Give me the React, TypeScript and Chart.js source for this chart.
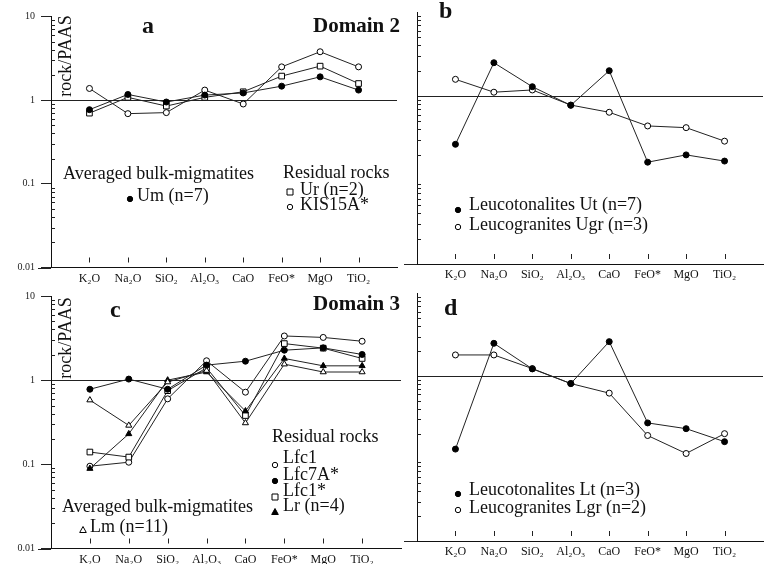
import React, { useEffect, useRef } from 'react';
import { Chart, registerables } from 'chart.js';

Chart.register(...registerables);

// ---------- data ----------
const OXIDES = ['K₂O', 'Na₂O', 'SiO₂', 'Al₂O₃', 'CaO', 'FeO*', 'MgO', 'TiO₂'];
const Y_MAJOR = [0.01, 0.1, 1, 10];
const Y_LABELS = ['0.01', '0.1', '1', '10'];
const MINOR_MULT = [2, 3, 4, 5, 6, 7, 8, 9];

// Panel a – Domain 2
const UM = [0.77, 1.17, 0.95, 1.15, 1.22, 1.47, 1.9, 1.32];
const UR = [0.7, 1.08, 0.85, 1.08, 1.26, 1.94, 2.55, 1.58];
const KIS15A = [1.38, 0.69, 0.71, 1.32, 0.9, 2.5, 3.79, 2.5];
// Panel b
const UT = [0.266, 2.49, 1.29, 0.775, 2.0, 0.163, 0.199, 0.168];
const UGR = [1.58, 1.11, 1.18, 0.78, 0.64, 0.44, 0.42, 0.29];
// Panel c – Domain 3
const LFC1 = [0.095, 0.106, 0.6, 1.7, 0.72, 3.35, 3.22, 2.9];
const LFC7A = [0.78, 1.03, 0.78, 1.51, 1.68, 2.27, 2.42, 2.02];
const LFC1S = [0.14, 0.122, 0.75, 1.4, 0.38, 2.72, 2.4, 1.81];
const LR = [0.089, 0.23, 1.0, 1.25, 0.43, 1.81, 1.48, 1.48];
const LM = [0.58, 0.29, 0.95, 1.3, 0.31, 1.55, 1.25, 1.25];
// Panel d
const LT = [0.13, 2.49, 1.22, 0.81, 2.61, 0.27, 0.23, 0.16];
const LGR = [1.8, 1.8, 1.23, 0.81, 0.62, 0.19, 0.115, 0.2];

// ---------- styles ----------
const SERIF = "'Liberation Serif', 'Times New Roman', 'DejaVu Serif', serif";
type Mk = 'fc' | 'oc' | 'os' | 'ft' | 'ot';
const MARK: Record<Mk, any> = {
  fc: { pointStyle: 'circle', pointRadius: 3, pointBackgroundColor: '#000' },
  oc: { pointStyle: 'circle', pointRadius: 3, pointBackgroundColor: '#fff' },
  os: { pointStyle: 'rect', pointRadius: 4, pointBackgroundColor: '#fff' },
  ft: { pointStyle: 'triangle', pointRadius: 3.5, pointBackgroundColor: '#000' },
  ot: { pointStyle: 'triangle', pointRadius: 3.5, pointBackgroundColor: '#fff' },
};

type TextItem = { t: string; x: number; y: number; font: string; base?: CanvasTextBaseline; rot?: boolean; align?: CanvasTextAlign };
type LegMark = { m: Mk; x: number; y: number };

interface Panel {
  area: { l: number; r: number; t: number; b: number };
  series: { label: string; values: number[]; m: Mk }[];
  yLabels: boolean;
  texts: TextItem[];
  marks: LegMark[];
}

const F18 = `18px ${SERIF}`;
const FB_LET = `bold 24px ${SERIF}`;
const FB_DOM = `bold 21px ${SERIF}`;

const PANELS: Panel[] = [
  {
    area: { l: 51, r: 397, t: 16.5, b: 267.5 },
    series: [
      { label: 'Um (n=7)', values: UM, m: 'fc' },
      { label: 'Ur (n=2)', values: UR, m: 'os' },
      { label: 'KIS15A*', values: KIS15A, m: 'oc' },
    ],
    yLabels: true,
    texts: [
      { t: 'a', x: 142, y: 33, font: FB_LET, base: 'alphabetic' },
      { t: 'Domain 2', x: 313, y: 32, font: FB_DOM, base: 'alphabetic' },
      { t: 'rock/PAAS', x: 66, y: 56, font: F18, rot: true, align: 'center' },
      { t: 'Averaged bulk-migmatites', x: 63, y: 174, font: F18 },
      { t: 'Um (n=7)', x: 137, y: 196, font: F18 },
      { t: 'Residual rocks', x: 283, y: 173, font: F18 },
      { t: 'Ur (n=2)', x: 300, y: 190, font: F18 },
      { t: 'KIS15A*', x: 300, y: 205, font: F18 },
    ],
    marks: [
      { m: 'fc', x: 130, y: 199 },
      { m: 'os', x: 290, y: 192 },
      { m: 'oc', x: 290, y: 207 },
    ],
  },
  {
    area: { l: 417, r: 763, t: 12, b: 264 },
    series: [
      { label: 'Leucotonalites Ut (n=7)', values: UT, m: 'fc' },
      { label: 'Leucogranites Ugr (n=3)', values: UGR, m: 'oc' },
    ],
    yLabels: false,
    texts: [
      { t: 'b', x: 439, y: 18, font: FB_LET, base: 'alphabetic' },
      { t: 'Leucotonalites Ut (n=7)', x: 469, y: 205, font: F18 },
      { t: 'Leucogranites Ugr (n=3)', x: 469, y: 225, font: F18 },
    ],
    marks: [
      { m: 'fc', x: 458, y: 210 },
      { m: 'oc', x: 458, y: 227 },
    ],
  },
  {
    area: { l: 51, r: 401, t: 296, b: 548.5 },
    series: [
      { label: 'Lfc7A*', values: LFC7A, m: 'fc' },
      { label: 'Lm (n=11)', values: LM, m: 'ot' },
      { label: 'Lr (n=4)', values: LR, m: 'ft' },
      { label: 'Lfc1*', values: LFC1S, m: 'os' },
      { label: 'Lfc1', values: LFC1, m: 'oc' },
    ],
    yLabels: true,
    texts: [
      { t: 'c', x: 110, y: 317, font: FB_LET, base: 'alphabetic' },
      { t: 'Domain 3', x: 313, y: 310, font: FB_DOM, base: 'alphabetic' },
      { t: 'rock/PAAS', x: 66, y: 338, font: F18, rot: true, align: 'center' },
      { t: 'Residual rocks', x: 272, y: 437, font: F18 },
      { t: 'Lfc1', x: 283, y: 458, font: F18 },
      { t: 'Lfc7A*', x: 283, y: 475, font: F18 },
      { t: 'Lfc1*', x: 283, y: 491, font: F18 },
      { t: 'Lr (n=4)', x: 283, y: 506, font: F18 },
      { t: 'Averaged bulk-migmatites', x: 62, y: 507, font: F18 },
      { t: 'Lm (n=11)', x: 90, y: 527, font: F18 },
    ],
    marks: [
      { m: 'oc', x: 275, y: 465 },
      { m: 'fc', x: 275, y: 481 },
      { m: 'os', x: 275, y: 497 },
      { m: 'ft', x: 275, y: 512 },
      { m: 'ot', x: 83, y: 530 },
    ],
  },
  {
    area: { l: 417, r: 764, t: 293.5, b: 541 },
    series: [
      { label: 'Leucotonalites Lt (n=3)', values: LT, m: 'fc' },
      { label: 'Leucogranites Lgr (n=2)', values: LGR, m: 'oc' },
    ],
    yLabels: false,
    texts: [
      { t: 'd', x: 444, y: 315, font: FB_LET, base: 'alphabetic' },
      { t: 'Leucotonalites Lt (n=3)', x: 469, y: 490, font: F18 },
      { t: 'Leucogranites Lgr (n=2)', x: 469, y: 508, font: F18 },
    ],
    marks: [
      { m: 'fc', x: 458, y: 494 },
      { m: 'oc', x: 458, y: 510 },
    ],
  },
];

const W = 768;
const H = 564;
const YW = 40;
const XH = 22;

function drawMark(ctx: CanvasRenderingContext2D, m: Mk, x: number, y: number) {
  ctx.save();
  ctx.lineWidth = 1;
  ctx.strokeStyle = '#000';
  ctx.fillStyle = m === 'fc' || m === 'ft' ? '#000' : '#fff';
  ctx.beginPath();
  if (m === 'fc' || m === 'oc') {
    ctx.arc(x, y, 2.7, 0, Math.PI * 2);
  } else if (m === 'os') {
    ctx.rect(x - 3, y - 3, 6, 6);
  } else {
    ctx.moveTo(x, y - 3.5);
    ctx.lineTo(x + 3.3, y + 2.5);
    ctx.lineTo(x - 3.3, y + 2.5);
    ctx.closePath();
  }
  ctx.fill();
  ctx.stroke();
  ctx.restore();
}

function makeDecor(panel: Panel) {
  return {
    id: 'decor',
    afterDraw(chart: any) {
      const ctx: CanvasRenderingContext2D = chart.ctx;
      const ys = chart.scales.y;
      const xs = chart.scales.x;
      const ca = chart.chartArea;
      ctx.save();
      ctx.strokeStyle = '#222';
      ctx.lineWidth = 1;
      ctx.beginPath();
      // minor log ticks, pointing inward
      for (const d of Y_MAJOR.slice(0, 3)) {
        for (const m of MINOR_MULT) {
          const py = Math.round(ys.getPixelForValue(d * m)) + 0.5;
          ctx.moveTo(ca.left, py);
          ctx.lineTo(ca.left + 4, py);
        }
      }
      // category ticks
      for (let i = 1; i <= OXIDES.length; i++) {
        const px = Math.round(xs.getPixelForValue(i)) + 0.5;
        ctx.moveTo(px, ca.bottom - 10);
        ctx.lineTo(px, ca.bottom - 5);
      }
      // x axis line continues a little to the left of the y axis
      const by = Math.round(ca.bottom) + 0.5;
      ctx.moveTo(ca.left - 13, by);
      ctx.lineTo(ca.left, by);
      ctx.stroke();
      // texts
      ctx.fillStyle = '#111';
      for (const t of panel.texts) {
        ctx.save();
        ctx.font = t.font;
        ctx.textBaseline = t.base ?? 'middle';
        ctx.textAlign = t.align ?? 'left';
        if (t.rot) {
          ctx.translate(t.x, t.y);
          ctx.rotate(-Math.PI / 2);
          ctx.fillText(t.t, 0, 0);
        } else {
          ctx.fillText(t.t, t.x, t.y);
        }
        ctx.restore();
      }
      for (const mk of panel.marks) drawMark(ctx, mk.m, mk.x, mk.y);
      ctx.restore();
    },
  };
}

function buildChart(canvas: HTMLCanvasElement, panel: Panel) {
  const { l, r, t, b } = panel.area;
  return new Chart(canvas, {
    type: 'line',
    data: {
      datasets: panel.series.map((s) => ({
        label: s.label,
        data: s.values.map((v, i) => ({ x: i + 1, y: v })),
        borderColor: '#222',
        borderWidth: 1,
        pointBorderColor: '#000',
        pointBorderWidth: 1,
        tension: 0,
        fill: false,
        ...MARK[s.m],
      })),
    },
    options: {
      responsive: false,
      animation: false,
      events: [],
      layout: {
        padding: { left: l - YW, top: t, right: W - r, bottom: H - b - XH },
      },
      plugins: { legend: { display: false }, tooltip: { enabled: false } },
      scales: {
        x: {
          type: 'linear',
          min: 0,
          max: OXIDES.length + 1,
          afterFit: (s: any) => {
            s.height = XH;
          },
          grid: { display: true, color: 'rgba(0,0,0,0)', drawTicks: false },
          border: { display: true, color: '#111', width: 1 },
          ticks: {
            stepSize: 1,
            autoSkip: false,
            maxRotation: 0,
            padding: 4,
            color: '#111',
            font: { family: SERIF, size: 12 },
            callback: (v: any) => OXIDES[Number(v) - 1] ?? '',
          },
        },
        y: {
          type: 'logarithmic',
          min: 0.01,
          max: 10,
          afterFit: (s: any) => {
            s.width = YW;
          },
          afterBuildTicks: (s: any) => {
            s.ticks = Y_MAJOR.map((v) => ({ value: v, major: true }));
          },
          grid: {
            color: (c: any) => (c.tick && c.tick.value === 1 ? '#222' : 'rgba(0,0,0,0)'),
            tickColor: panel.yLabels ? '#222' : 'rgba(0,0,0,0)',
            tickLength: 10,
            lineWidth: 1,
          },
          border: { display: true, color: '#111', width: 1 },
          ticks: {
            display: panel.yLabels,
            padding: 6,
            color: '#222',
            font: { family: SERIF, size: 10 },
            callback: (v: any) => {
              const i = Y_MAJOR.indexOf(Number(v));
              return i >= 0 ? Y_LABELS[i] : '';
            },
          },
        },
      },
    } as any,
    plugins: [makeDecor(panel)],
  });
}

export default function App() {
  const refs = [useRef<HTMLCanvasElement>(null), useRef<HTMLCanvasElement>(null), useRef<HTMLCanvasElement>(null), useRef<HTMLCanvasElement>(null)];
  useEffect(() => {
    const charts = PANELS.map((p, i) => buildChart(refs[i].current as HTMLCanvasElement, p));
    return () => charts.forEach((c) => c.destroy());
  }, []);
  return (
    <div style={{ position: 'fixed', left: 0, top: 0, width: W, height: H, background: '#fff' }}>
      {refs.map((r, i) => (
        <canvas key={i} ref={r} width={W} height={H} style={{ position: 'absolute', left: 0, top: 0, width: W, height: H }} />
      ))}
    </div>
  );
}
